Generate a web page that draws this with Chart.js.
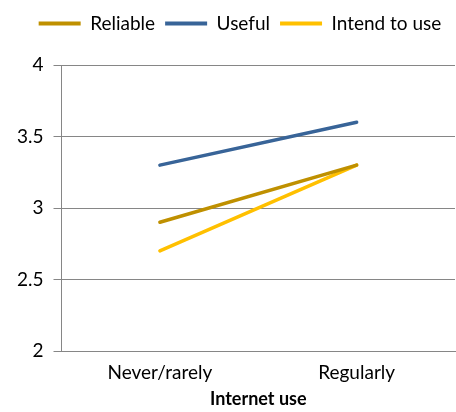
<!DOCTYPE html>
<html>
<head>
<meta charset="utf-8">
<script src="https://cdn.jsdelivr.net/npm/chart.js@4/dist/chart.umd.min.js"></script>
<style>
  html, body { margin: 0; padding: 0; background: #fff; }
  #wrap { width: 456px; height: 412px; }
</style>
</head>
<body>
<div id="wrap"><canvas id="c" width="456" height="412"></canvas></div>
<script>
const categories = ['Never/rarely', 'Regularly'];
const reliable = [2.9, 3.3];
const useful = [3.3, 3.6];
const intendToUse = [2.7, 3.3];
const yTicks = [2, 2.5, 3, 3.5, 4];

const FONT = 'Lato, "Open Sans", sans-serif';
const GRID = '#868686';

function series(label, data, color) {
  return {
    label, data,
    borderColor: color,
    backgroundColor: color,
    borderWidth: 3.5,
    pointRadius: 0,
    pointHoverRadius: 0,
    tension: 0,
    borderCapStyle: 'round'
  };
}

// extra space under the legend row, and the row nudged a little to the right
const legendGap = {
  id: 'legendGap',
  beforeInit(chart) {
    const fit = chart.legend.fit;
    chart.legend.fit = function () {
      fit.call(this);
      this.height += 22;
    };
  },
  afterLayout(chart) {
    chart.legend.left += 18;
  }
};

new Chart(document.getElementById('c'), {
  type: 'line',
  data: {
    labels: categories,
    datasets: [
      series('Reliable', reliable, '#BF9000'),
      series('Useful', useful, '#386498'),
      series('Intend to use', intendToUse, '#FFC000')
    ]
  },
  options: {
    responsive: false,
    animation: false,
    events: [],
    layout: { padding: { left: 7, right: 1, top: 4, bottom: 4 } },
    plugins: {
      tooltip: { enabled: false },
      legend: {
        position: 'top',
        align: 'center',
        labels: {
          color: '#000',
          font: { family: FONT, size: 19 },
          boxWidth: 42,
          boxHeight: 4,
          padding: 10,
          generateLabels(chart) {
            return chart.data.datasets.map((ds, i) => ({
              text: ds.label,
              fillStyle: ds.borderColor,
              strokeStyle: ds.borderColor,
              lineWidth: 0,
              hidden: false,
              datasetIndex: i,
              fontColor: '#000'
            }));
          }
        }
      }
    },
    scales: {
      x: {
        offset: true,
        grid: { display: false, drawTicks: false },
        border: { display: true, color: GRID, width: 1 },
        ticks: { color: '#000', font: { family: FONT, size: 19, lineHeight: 1 }, padding: 12 },
        title: {
          display: true,
          text: 'Internet use',
          color: '#000',
          font: { family: FONT, size: 18, weight: 'bold', lineHeight: 1 },
          padding: { top: -4, bottom: 0 }
        }
      },
      y: {
        min: 2,
        max: 4,
        afterBuildTicks(axis) { axis.ticks = yTicks.map(v => ({ value: v })); },
        grid: { color: GRID, lineWidth: 1, drawTicks: true, tickLength: 8 },
        border: { display: true, color: GRID, width: 1 },
        ticks: {
          color: '#000',
          font: { family: FONT, size: 19 },
          padding: 10,
          callback: v => String(v)
        }
      }
    }
  },
  plugins: [legendGap]
});
</script>
</body>
</html>
